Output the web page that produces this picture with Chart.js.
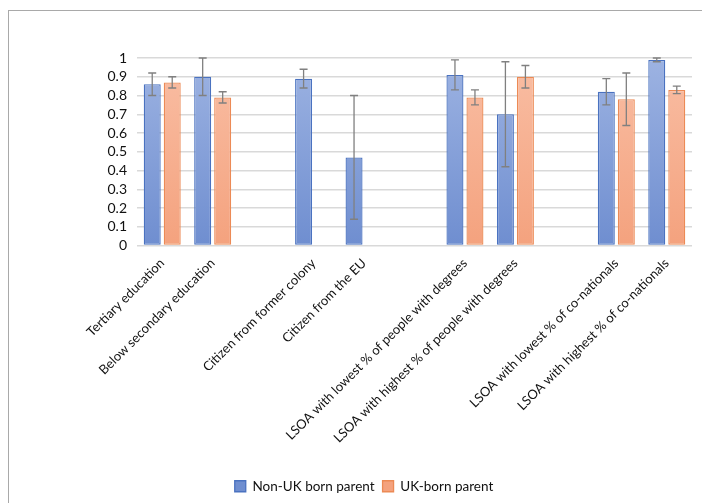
<!DOCTYPE html>
<html>
<head>
<meta charset="utf-8">
<script src="https://cdn.jsdelivr.net/npm/chart.js@4"></script>
<style>
  html, body { margin: 0; padding: 0; background: #fff; }
  #wrap { position: relative; width: 702px; height: 503px; overflow: hidden; }
  #frame { position: absolute; left: 8px; top: 10px; width: 720px; height: 520px;
           border-top: 1.5px solid #a9a9a9; border-left: 1.5px solid #a9a9a9; pointer-events: none; }
  canvas { position: absolute; left: 0; top: 0; }
</style>
</head>
<body>
<div id="wrap">
  <canvas id="chart" width="702" height="503"></canvas>
  <div id="frame"></div>
</div>
<script>
// categories ('' = gap between groups)
var categories = [
    'Tertiary education',
    'Below secondary education',
    '',
    'Citizen from former colony',
    'Citizen from the EU',
    '',
    'LSOA with lowest % of people with degrees',
    'LSOA with highest % of people with degrees',
    '',
    'LSOA with lowest % of co-nationals',
    'LSOA with highest % of co-nationals'
];

var nonUK     = [0.86, 0.90, null, 0.89, 0.47, null, 0.91, 0.70, null, 0.82, 0.99];
var nonUKLow  = [0.80, 0.80, null, 0.84, 0.14, null, 0.83, 0.42, null, 0.75, 0.98];
var nonUKHigh = [0.92, 1.00, null, 0.94, 0.80, null, 0.99, 0.98, null, 0.89, 1.00];

var ukBorn     = [0.87, 0.79, null, null, null, null, 0.79, 0.90, null, 0.78, 0.83];
var ukBornLow  = [0.84, 0.76, null, null, null, null, 0.75, 0.84, null, 0.64, 0.81];
var ukBornHigh = [0.90, 0.82, null, null, null, null, 0.83, 0.96, null, 0.92, 0.85];

var yTickLabels = ['0', '0.1', '0.2', '0.3', '0.4', '0.5', '0.6', '0.7', '0.8', '0.9', '1'];

var FONT = 'Lato';

var grad = (top, bottom, flat) => {
    return (ctx) => {
        var area = ctx.chart.chartArea;
        if (!area) return flat;
        var g = ctx.chart.ctx.createLinearGradient(0, area.top, 0, area.bottom);
        g.addColorStop(0, top);
        g.addColorStop(1, bottom);
        return g;
    };
};

// error bars drawn over the bars
var errorBars = {
    id: 'errorBars',
    afterDatasetsDraw(chart) {
        var c = chart.ctx;
        var y = chart.scales.y;
        chart.data.datasets.forEach((ds, i) => {
            var meta = chart.getDatasetMeta(i);
            meta.data.forEach((bar, j) => {
                var lo = ds.errLow[j], hi = ds.errHigh[j];
                if (lo == null || hi == null) return;
                var x = bar.x;
                var y1 = y.getPixelForValue(lo), y2 = y.getPixelForValue(hi);
                c.save();
                c.strokeStyle = '#808080';
                c.lineWidth = 1.3;
                c.beginPath();
                c.moveTo(x, y1); c.lineTo(x, y2);
                c.moveTo(x - 4, y1); c.lineTo(x + 4, y1);
                c.moveTo(x - 4, y2); c.lineTo(x + 4, y2);
                c.stroke();
                c.restore();
            });
        });
    }
};

new Chart('chart', {
    type: 'bar',
    data: {
        labels: categories,
        datasets: [{
            label: 'Non-UK born parent',
            data: nonUK,
            errLow: nonUKLow,
            errHigh: nonUKHigh,
            backgroundColor: grad('#9db3e2', '#6f8ed0', '#7f9cd8'),
            borderColor: '#4a72c0',
            borderWidth: 1.3,
            borderSkipped: false
        }, {
            label: 'UK-born parent',
            data: ukBorn,
            errLow: ukBornLow,
            errHigh: ukBornHigh,
            backgroundColor: grad('#f9bea4', '#f4a27e', '#f5a887'),
            borderColor: '#ec8a55',
            borderWidth: 1.3,
            borderSkipped: false
        }]
    },
    plugins: [errorBars],
    options: {
        responsive: false,
        animation: false,
        categoryPercentage: 0.793,
        barPercentage: 0.85,
        layout: { padding: { top: 58, left: 36, right: 10, bottom: 0 } },
        plugins: {
            tooltip: { enabled: false },
            legend: {
                position: 'bottom',
                labels: {
                    boxWidth: 11,
                    boxHeight: 11,
                    padding: 8,
                    color: '#111',
                    font: { family: FONT, size: 13.5 }
                }
            }
        },
        scales: {
            x: {
                grid: { display: false },
                border: { display: false },
                ticks: {
                    autoSkip: false,
                    maxRotation: 45,
                    minRotation: 45,
                    padding: 2,
                    color: '#111',
                    font: { family: FONT, size: 13 }
                },
                afterFit: (s) => { s.height = 226; }
            },
            y: {
                min: 0,
                max: 1,
                grid: { color: '#d9d9d9', lineWidth: 1.5, drawTicks: false },
                border: { display: false },
                ticks: {
                    autoSkip: false,
                    stepSize: 0.1,
                    padding: 10,
                    color: '#111',
                    font: { family: FONT, size: 14 },
                    callback: (v, i) => yTickLabels[i]
                },
                afterFit: (s) => { s.width = 101; }
            }
        }
    }
});
</script>
</body>
</html>
